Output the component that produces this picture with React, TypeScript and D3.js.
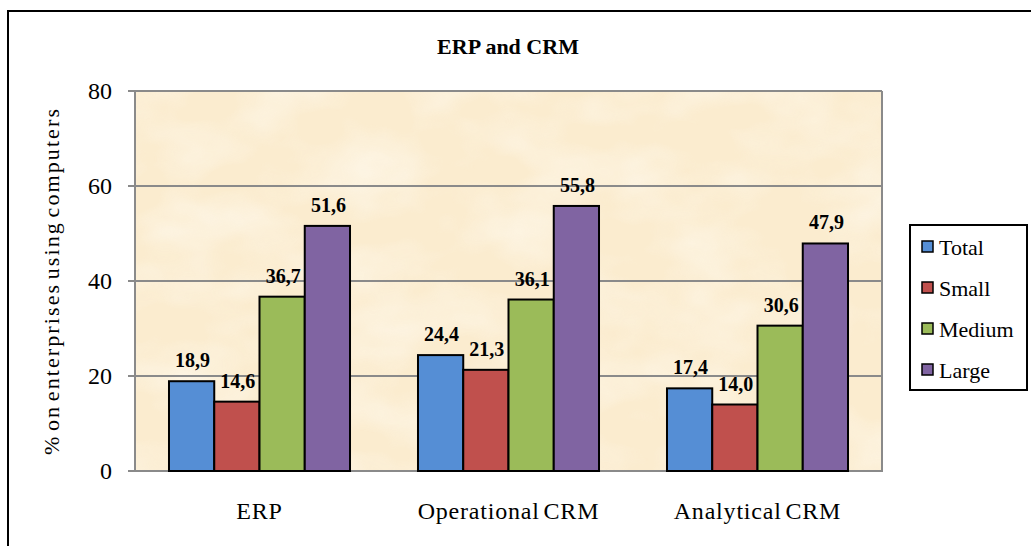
import React from "react";
import * as d3 from "d3";

const categories = ["ERP", "Operational CRM", "Analytical CRM"];
const seriesNames = ["Total", "Small", "Medium", "Large"];
const totalValues = [18.9, 24.4, 17.4];
const smallValues = [14.6, 21.3, 14.0];
const mediumValues = [36.7, 36.1, 30.6];
const largeValues = [51.6, 55.8, 47.9];
const yTicks = [0, 20, 40, 60, 80];
const colors = ["#558ED5", "#C0504D", "#9BBB59", "#8064A2"];

const seriesValues = [totalValues, smallValues, mediumValues, largeValues];

const W = 1031;
const H = 546;
const plot = { left: 135, right: 882, top: 91, bottom: 471 };
const FONT = "'Liberation Serif', 'Times New Roman', serif";

export default function App() {
  const x0 = d3
    .scaleBand<string>()
    .domain(categories)
    .range([plot.left, plot.right])
    .paddingInner(0.273)
    .paddingOuter(0.1365);
  const x1 = d3
    .scaleBand<string>()
    .domain(seriesNames)
    .range([0, x0.bandwidth()])
    .padding(0);
  const y = d3.scaleLinear().domain([0, 80]).range([plot.bottom, plot.top]);
  const fmt = (v: number) => v.toFixed(1).replace(".", ",");

  return (
    <svg
      width={W}
      height={H}
      style={{ position: "absolute", left: 0, top: 0 }}
      fontFamily={FONT}
    >
      <defs>
        <filter id="mottle" x="0" y="0" width="100%" height="100%">
          <feTurbulence type="fractalNoise" baseFrequency="0.012 0.02" numOctaves={3} seed={4} />
          <feColorMatrix
            type="matrix"
            values="0 0 0 0 1  0 0 0 0 0.98  0 0 0 0 0.93  1.2 0 0 0 -0.45"
          />
        </filter>
      </defs>
      <rect x={0} y={0} width={W} height={H} fill="#ffffff" />
      <rect x={8} y={11} width={1060} height={580} fill="none" stroke="#000" strokeWidth={2} />
      <text x={508} y={54} textAnchor="middle" fontSize={22} fontWeight="bold">
        ERP and CRM
      </text>
      <rect
        x={plot.left}
        y={plot.top}
        width={plot.right - plot.left}
        height={plot.bottom - plot.top}
        fill="#FBECCF"
      />
      <rect
        x={plot.left}
        y={plot.top}
        width={plot.right - plot.left}
        height={plot.bottom - plot.top}
        fill="#fff"
        filter="url(#mottle)"
        opacity={0.8}
      />
      {yTicks.map((t) => (
        <g key={t}>
          <line x1={plot.left - 7} x2={plot.right} y1={y(t)} y2={y(t)} stroke="#8A8A8A" strokeWidth={2} />
          <text x={112} y={y(t)} dy="0.35em" textAnchor="end" fontSize={24}>
            {t}
          </text>
        </g>
      ))}
      <line x1={plot.left} x2={plot.left} y1={plot.top} y2={plot.bottom + 1} stroke="#8A8A8A" strokeWidth={2} />
      <line x1={plot.right} x2={plot.right} y1={plot.top} y2={plot.bottom + 1} stroke="#8A8A8A" strokeWidth={2} />
      {categories.map((c, ci) => (
        <g key={c}>
          {seriesNames.map((s, si) => {
            const v = seriesValues[si][ci];
            const bx = (x0(c) as number) + (x1(s) as number);
            return (
              <g key={s}>
                <rect
                  x={bx}
                  y={y(v)}
                  width={x1.bandwidth()}
                  height={y(0) - y(v)}
                  fill={colors[si]}
                  stroke="#000"
                  strokeWidth={2}
                />
                <text
                  x={bx + x1.bandwidth() / 2 + 1}
                  y={y(v) - 14}
                  textAnchor="middle"
                  fontSize={20}
                  fontWeight="bold"
                >
                  {fmt(v)}
                </text>
              </g>
            );
          })}
          <text
            x={(x0(c) as number) + x0.bandwidth() / 2}
            y={519}
            textAnchor="middle"
            fontSize={24}
            letterSpacing={0.8}
            wordSpacing={-3}
          >
            {c}
          </text>
        </g>
      ))}
      <text
        transform={`translate(59, ${(plot.top + plot.bottom) / 2}) rotate(-90)`}
        textAnchor="middle"
        fontSize={22}
        letterSpacing={2.1}
        wordSpacing={-4}
      >
        % on enterprises using computers
      </text>
      <rect x={910} y={225} width={117} height={165} fill="#fff" stroke="#000" strokeWidth={2} />
      {seriesNames.map((s, i) => {
        const cy = 247 + i * 41;
        return (
          <g key={s}>
            <rect x={922} y={cy - 6} width={11} height={11} fill={colors[i]} stroke="#000" strokeWidth={1.5} />
            <text x={939} y={cy} dy="0.35em" fontSize={22}>
              {s}
            </text>
          </g>
        );
      })}
    </svg>
  );
}
